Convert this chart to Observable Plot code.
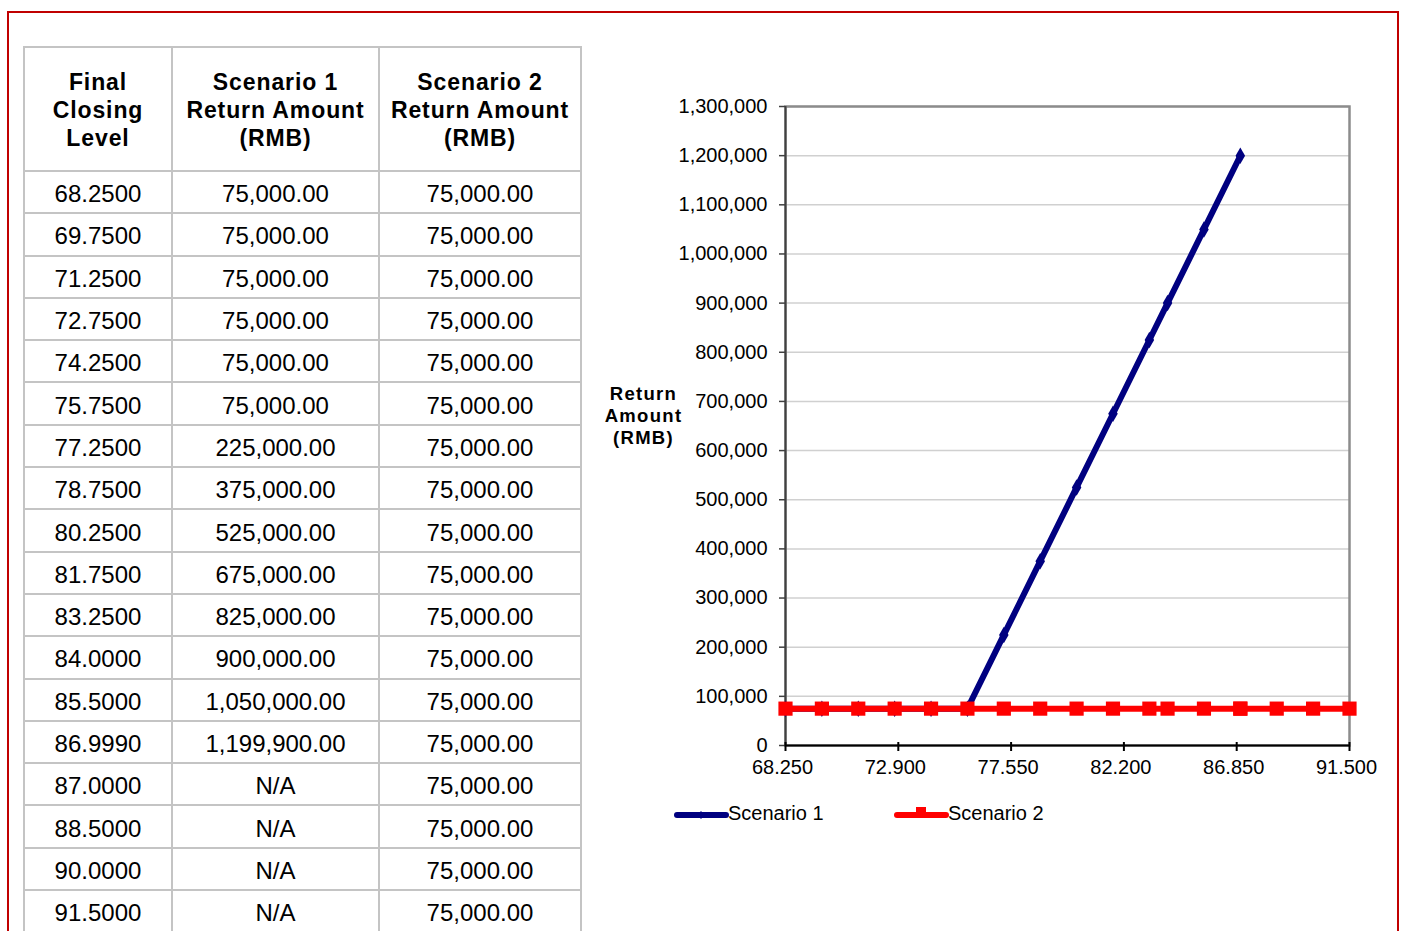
<!DOCTYPE html>
<html>
<head>
<meta charset="utf-8">
<script src="https://cdn.jsdelivr.net/npm/d3@7"></script>
<script src="https://cdn.jsdelivr.net/npm/@observablehq/plot@0.6"></script>
<style>
  html, body { margin: 0; padding: 0; background: #fff; overflow: hidden; }
  body { width: 1403px; height: 931px; position: relative; font-family: Arial, "Liberation Sans", sans-serif; color: #000; }
  #frame { position: absolute; left: 7px; top: 11px; width: 1388px; height: 1000px; border: 2px solid #c00000; border-bottom: none; }
  #tbl { position: absolute; left: 23px; top: 46px; border-collapse: collapse; }
  #tbl td, #tbl th { border: 2px solid #c4c4c4; text-align: center; padding: 0; }
  #tbl th { font-weight: bold; font-size: 23px; letter-spacing: 0.9px; line-height: 28px; height: 120px; padding-top: 2px; }
  #tbl td { font-size: 24px; height: 36.3px; padding-top: 4px; }
  #chart { position: absolute; left: 590px; top: 90px; }
  #legend { position: absolute; left: 0; top: 802px; font-size: 20px; }
  .lg { position: absolute; top: 0; white-space: nowrap; }
</style>
</head>
<body>
<div id="frame"></div>
<table id="tbl"></table>
<div id="chart"></div>
<div id="legend"></div>
<script>
// ---- data ----
const headers = ["Final\nClosing\nLevel", "Scenario 1\nReturn Amount\n(RMB)", "Scenario 2\nReturn Amount\n(RMB)"];
const levels = [68.25, 69.75, 71.25, 72.75, 74.25, 75.75, 77.25, 78.75, 80.25, 81.75, 83.25, 84.0, 85.5, 86.999, 87.0, 88.5, 90.0, 91.5];
const scenario1 = [75000, 75000, 75000, 75000, 75000, 75000, 225000, 375000, 525000, 675000, 825000, 900000, 1050000, 1199900, null, null, null, null];
const scenario2 = [75000, 75000, 75000, 75000, 75000, 75000, 75000, 75000, 75000, 75000, 75000, 75000, 75000, 75000, 75000, 75000, 75000, 75000];
const xTicks = [68.25, 72.9, 77.55, 82.2, 86.85, 91.5];
const yTicks = [0, 100000, 200000, 300000, 400000, 500000, 600000, 700000, 800000, 900000, 1000000, 1100000, 1200000, 1300000];
const seriesNames = ["Scenario 1", "Scenario 2"];
const seriesColors = ["#000080", "#ff0000"];
const yLabel = "Return\nAmount\n(RMB)";

// ---- table ----
const colWidths = [146, 205, 200];
const tbl = document.getElementById("tbl");
const fmt2 = d3.format(",.2f");
let html = "<tr>" + headers.map((h, i) => `<th style="width:${colWidths[i]}px">${h.replace(/\n/g, "<br>")}</th>`).join("") + "</tr>";
levels.forEach((lv, i) => {
  html += `<tr><td>${lv.toFixed(4)}</td><td>${scenario1[i] == null ? "N/A" : fmt2(scenario1[i])}</td><td>${fmt2(scenario2[i])}</td></tr>`;
});
tbl.innerHTML = html;

// ---- chart ----
const data = levels.map((x, i) => ({x, s1: scenario1[i], s2: scenario2[i]}));
const s1data = data.filter(d => d.s1 != null);

const chart = Plot.plot({
  width: 810,
  height: 700,
  marginLeft: 195,
  marginTop: 16,
  marginRight: 51,
  marginBottom: 45,
  x: {domain: [68.25, 91.5]},
  y: {domain: [0, 1300000]},
  style: {fontFamily: "Arial, 'Liberation Sans', sans-serif", fontSize: "20px", color: "#000", background: "transparent", overflow: "visible"},
  marks: [
    Plot.gridY(yTicks, {stroke: "#d0d0d0", strokeOpacity: 1, strokeWidth: 1.5}),
    Plot.frame({stroke: "#8c8c8c", strokeWidth: 2.5}),
    Plot.ruleX([68.25], {stroke: "#404040", strokeWidth: 2}),
    Plot.axisY({ticks: yTicks, tickFormat: d3.format(","), tickSize: 6, tickPadding: 12, label: null, stroke: "#404040", strokeWidth: 1.5}),
    Plot.axisX({ticks: xTicks, tickSize: 9, dy: -3, tickFormat: () => "", label: null, stroke: "#000", strokeWidth: 2}),
    Plot.axisX({ticks: xTicks, tickSize: 0, tickPadding: 14, dx: -3, tickFormat: d3.format(".3f"), label: null}),
    Plot.ruleY([0], {stroke: "#000", strokeWidth: 2}),
    Plot.line(s1data, {x: "x", y: "s1", stroke: seriesColors[0], strokeWidth: 6}),
    Plot.dot(s1data, {x: "x", y: "s1", symbol: "diamond", fill: seriesColors[0], r: 5}),
    Plot.line(data, {x: "x", y: "s2", stroke: seriesColors[1], strokeWidth: 6}),
    Plot.dot(data, {x: "x", y: "s2", symbol: "square", fill: seriesColors[1], r: 8}),
    Plot.text([yLabel], {frameAnchor: "left", dx: -142, dy: -11, fontWeight: "bold", fontSize: 18.5, textAnchor: "middle", lineHeight: 1.2, fill: "#000"})
  ]
});
document.getElementById("chart").appendChild(chart);
chart.querySelectorAll("text").forEach(t => { if (t.textContent.includes("Return")) t.style.letterSpacing = "1.3px"; });

// ---- legend ----
const legend = document.getElementById("legend");
const lgPos = [674, 894];
seriesNames.forEach((name, i) => {
  const el = document.createElement("div");
  el.className = "lg";
  el.style.left = lgPos[i] + "px";
  const marker = i === 0
    ? `<path d="M27,10 L30.5,14 L27,18 L23.5,14Z" fill="${seriesColors[i]}"/>`
    : `<rect x="22" y="6" width="10" height="8" fill="${seriesColors[i]}"/>`;
  el.innerHTML = `<svg width="55" height="24" style="vertical-align:middle;margin-top:-4px"><line x1="3" y1="14" x2="52" y2="14" stroke="${seriesColors[i]}" stroke-width="6" stroke-linecap="round"/>${marker}</svg><span style="position:relative;left:-1px">${name}</span>`;
  legend.appendChild(el);
});
</script>
</body>
</html>
